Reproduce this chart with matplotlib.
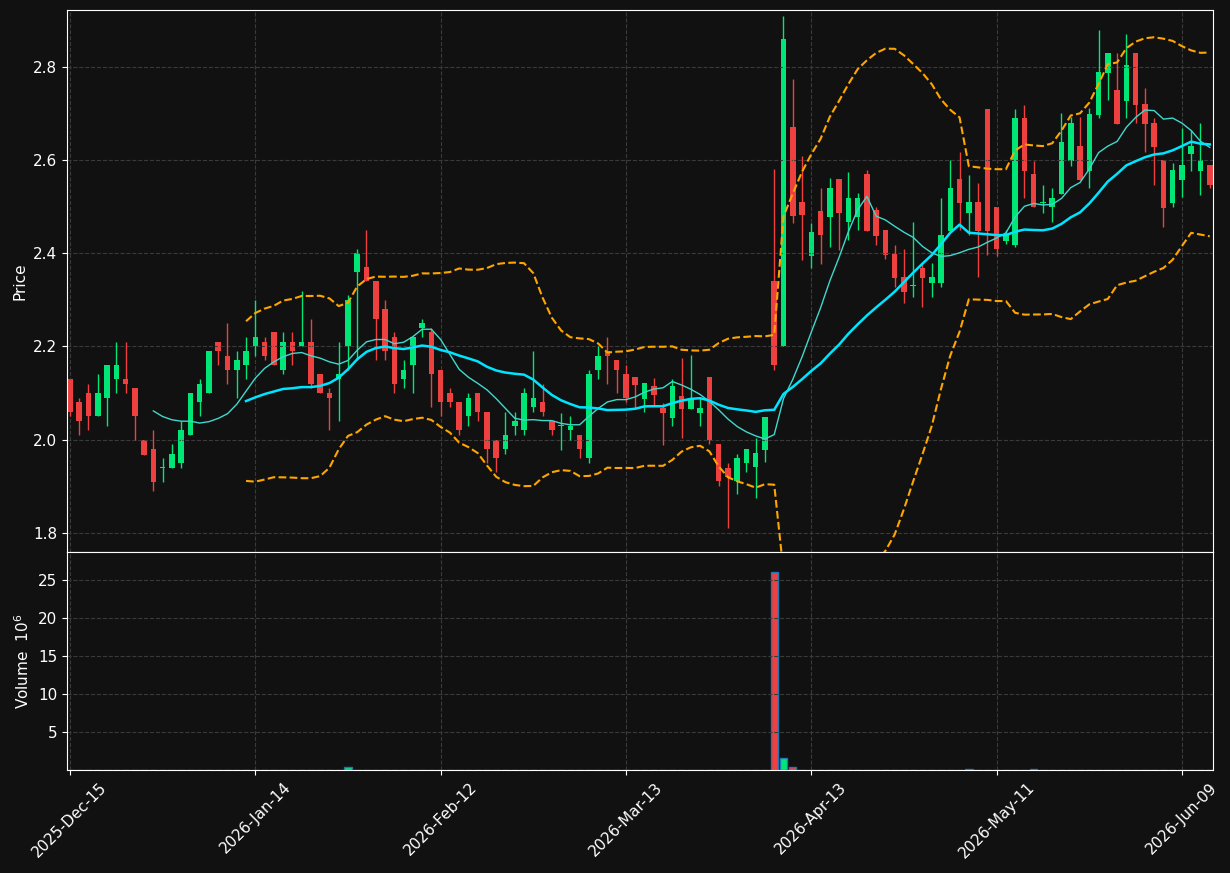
import numpy as np
import pandas as pd
import matplotlib
matplotlib.use("Agg")
import matplotlib.pyplot as plt

# --- datos OHLC diarios ---
opens = [2.13, 2.08, 2.10, 2.05, 2.09, 2.13, 2.13, 2.11, 2.00, 1.98,
         1.94, 1.94, 1.95, 2.01, 2.08, 2.10, 2.21, 2.18, 2.15, 2.16,
         2.20, 2.21, 2.23, 2.15, 2.21, 2.20, 2.21, 2.14, 2.10, 2.13,
         2.20, 2.36, 2.37, 2.34, 2.28, 2.22, 2.13, 2.16, 2.24, 2.23,
         2.15, 2.10, 2.08, 2.05, 2.10, 2.06, 2.00, 1.98, 2.03, 2.02,
         2.07, 2.08, 2.04, 2.03, 2.02, 2.01, 1.96, 2.15, 2.19, 2.17,
         2.14, 2.135, 2.088, 2.115, 2.068, 2.047, 2.094, 2.066, 2.057, 2.135,
         1.99, 1.94, 1.912, 1.95, 1.942, 1.978, 2.34, 2.20, 2.67, 2.51,
         2.395, 2.49, 2.478, 2.56, 2.467, 2.478, 2.57, 2.493, 2.45, 2.399,
         2.349, 2.33, 2.369, 2.336, 2.336, 2.448, 2.56, 2.487, 2.51, 2.71,
         2.50, 2.427, 2.418, 2.69, 2.571, 2.508, 2.50, 2.528, 2.599, 2.631,
         2.577, 2.697, 2.787, 2.75, 2.727, 2.83, 2.72, 2.68, 2.60, 2.508,
         2.557, 2.613, 2.577, 2.59]
highs = [2.13, 2.09, 2.12, 2.14, 2.16, 2.21, 2.21, 2.11, 2.00, 2.02,
         1.96, 1.99, 2.04, 2.10, 2.13, 2.19, 2.21, 2.25, 2.19, 2.22,
         2.30, 2.22, 2.23, 2.23, 2.23, 2.32, 2.26, 2.14, 2.11, 2.21,
         2.31, 2.41, 2.45, 2.34, 2.30, 2.23, 2.17, 2.22, 2.26, 2.24,
         2.15, 2.11, 2.08, 2.10, 2.10, 2.06, 2.00, 2.06, 2.06, 2.11,
         2.19, 2.12, 2.04, 2.057, 2.05, 2.01, 2.15, 2.20, 2.22, 2.17,
         2.16, 2.135, 2.122, 2.133, 2.079, 2.13, 2.175, 2.182, 2.09, 2.135,
         1.99, 1.95, 1.97, 1.98, 2.004, 2.049, 2.58, 2.91, 2.774, 2.609,
         2.465, 2.54, 2.562, 2.56, 2.575, 2.53, 2.579, 2.50, 2.45, 2.418,
         2.409, 2.467, 2.38, 2.38, 2.519, 2.60, 2.618, 2.568, 2.551, 2.71,
         2.50, 2.45, 2.71, 2.718, 2.599, 2.547, 2.54, 2.70, 2.693, 2.693,
         2.712, 2.879, 2.83, 2.83, 2.87, 2.83, 2.755, 2.69, 2.60, 2.594,
         2.669, 2.665, 2.68, 2.59]
lows = [2.05, 2.01, 2.02, 2.05, 2.03, 2.10, 2.10, 2.00, 1.967, 1.89,
        1.91, 1.94, 1.94, 2.01, 2.05, 2.10, 2.16, 2.12, 2.09, 2.13,
        2.18, 2.17, 2.16, 2.14, 2.16, 2.20, 2.11, 2.10, 2.02, 2.04,
        2.15, 2.17, 2.34, 2.17, 2.17, 2.10, 2.11, 2.10, 2.22, 2.07,
        2.05, 2.07, 2.01, 2.03, 2.04, 1.95, 1.93, 1.97, 2.01, 2.01,
        2.06, 2.05, 2.01, 1.978, 2.00, 1.96, 1.95, 2.13, 2.12, 2.10,
        2.08, 2.068, 2.06, 2.075, 1.989, 2.03, 2.004, 2.066, 2.03, 1.99,
        1.90, 1.81, 1.884, 1.931, 1.875, 1.952, 2.15, 2.20, 2.465, 2.386,
        2.369, 2.377, 2.414, 2.407, 2.429, 2.45, 2.448, 2.418, 2.388, 2.328,
        2.294, 2.306, 2.285, 2.306, 2.328, 2.448, 2.45, 2.439, 2.349, 2.397,
        2.394, 2.42, 2.414, 2.519, 2.50, 2.487, 2.467, 2.528, 2.588, 2.557,
        2.54, 2.69, 2.729, 2.678, 2.69, 2.68, 2.618, 2.547, 2.457, 2.50,
        2.521, 2.577, 2.525, 2.54]
closes = [2.06, 2.04, 2.05, 2.10, 2.16, 2.16, 2.12, 2.05, 1.967, 1.91,
          1.94, 1.97, 2.02, 2.10, 2.12, 2.19, 2.19, 2.15, 2.17, 2.19,
          2.22, 2.18, 2.16, 2.21, 2.19, 2.21, 2.12, 2.10, 2.09, 2.14,
          2.30, 2.40, 2.34, 2.26, 2.19, 2.12, 2.15, 2.22, 2.25, 2.14,
          2.08, 2.08, 2.02, 2.09, 2.06, 1.98, 1.96, 2.01, 2.04, 2.10,
          2.09, 2.06, 2.02, 2.03, 2.03, 1.98, 2.14, 2.18, 2.18, 2.15,
          2.09, 2.118, 2.122, 2.096, 2.057, 2.115, 2.066, 2.088, 2.068, 2.00,
          1.912, 1.92, 1.961, 1.98, 1.971, 2.049, 2.16, 2.86, 2.48, 2.482,
          2.445, 2.44, 2.54, 2.487, 2.519, 2.519, 2.448, 2.437, 2.397, 2.347,
          2.317, 2.33, 2.347, 2.349, 2.439, 2.54, 2.508, 2.51, 2.448, 2.448,
          2.409, 2.439, 2.69, 2.577, 2.50, 2.508, 2.519, 2.639, 2.68, 2.557,
          2.699, 2.79, 2.83, 2.678, 2.804, 2.718, 2.678, 2.628, 2.497, 2.579,
          2.59, 2.631, 2.60, 2.547]
volumes = [0, 0, 0, 0, 0, 0, 0, 0, 0.05, 0,
           0, 0, 0, 0, 0, 0, 0.05, 0, 0, 0,
           0, 0, 0, 0, 0, 0.05, 0, 0.05, 0, 0.05,
           0.45, 0.05, 0, 0.05, 0, 0.05, 0, 0.05, 0, 0.05,
           0.05, 0, 0, 0, 0, 0, 0, 0, 0, 0,
           0, 0, 0, 0.05, 0, 0, 0, 0, 0, 0,
           0, 0, 0, 0.05, 0.05, 0, 0, 0, 0, 0.05,
           0, 0, 0, 0, 0, 0, 26.1, 1.6, 0.35, 0.05,
           0.05, 0.05, 0.05, 0, 0, 0, 0, 0, 0, 0,
           0, 0, 0, 0.05, 0, 0, 0, 0.1, 0, 0,
           0, 0, 0, 0.05, 0.1, 0, 0, 0, 0, 0,
           0, 0, 0.05, 0, 0, 0, 0, 0, 0, 0,
           0, 0, 0, 0]

holidays = ["2025-12-25", "2026-01-01", "2026-01-19", "2026-02-16",
            "2026-04-03", "2026-05-25"]
dates = pd.bdate_range("2025-12-15", periods=140, freq="C", holidays=holidays)[:len(closes)]

df = pd.DataFrame({"open": opens, "high": highs, "low": lows,
                   "close": closes, "volume": volumes}, index=dates)

# --- medias móviles y bandas de Bollinger ---
ma10 = df["close"].rolling(10).mean()
ma20 = df["close"].rolling(20).mean()
sd20 = df["close"].rolling(20).std(ddof=0)
upper = ma20 + 2 * sd20
lower = ma20 - 2 * sd20

bg = "#111111"
up_c = "#00e676"
down_c = "#ef4040"

fig = plt.figure(figsize=(12.3, 8.73), dpi=100, facecolor=bg)
ax = fig.add_axes([67 / 1230, 1 - 552 / 873, (1213 - 67) / 1230, 542 / 873])
axv = fig.add_axes([67 / 1230, 1 - 770 / 873, (1213 - 67) / 1230, 218 / 873], sharex=ax)

x = np.arange(len(df))
colors = [up_c if c >= o else down_c for o, c in zip(df["open"], df["close"])]

ax.vlines(x, df["low"], df["high"], colors=colors, linewidth=1)
body_bottom = np.minimum(df["open"], df["close"])
body_h = np.maximum(np.abs(df["close"] - df["open"]), 0.002)
ax.bar(x, body_h, bottom=body_bottom, width=0.6, color=colors, linewidth=0)

ax.plot(x, ma10, color="#40d8cc", linewidth=1)
ax.plot(x, ma20, color="#00e5ff", linewidth=1.8)
ax.plot(x, upper, color="orange", linestyle="--", linewidth=1.5)
ax.plot(x, lower, color="orange", linestyle="--", linewidth=1.5)

axv.bar(x, df["volume"], width=0.8, color=colors, edgecolor="#1f77b4", linewidth=1)

for a in (ax, axv):
    a.set_facecolor(bg)
    a.grid(True, linestyle="--", color="#3a3a3a", linewidth=0.8)
    a.tick_params(colors="white", labelsize=11)
    for s in a.spines.values():
        s.set_color("white")

ax.set_xlim(-0.32, 123.35)
ax.set_ylim(1.759, 2.922)
axv.set_ylim(0, 28.7)
axv.set_yticks([5, 10, 15, 20, 25])
ax.set_ylabel("Price", color="white", fontsize=11)
axv.set_ylabel("Volume  $10^6$", color="white", fontsize=11)

ticks = list(range(0, len(df), 20))
ax.set_xticks(ticks)
axv.set_xticklabels([d.strftime("%Y-%b-%d") for d in dates[ticks]], rotation=45, ha="center")
plt.setp(ax.get_xticklabels(), visible=False)

fig.savefig("out.png", dpi=100, facecolor=bg)
